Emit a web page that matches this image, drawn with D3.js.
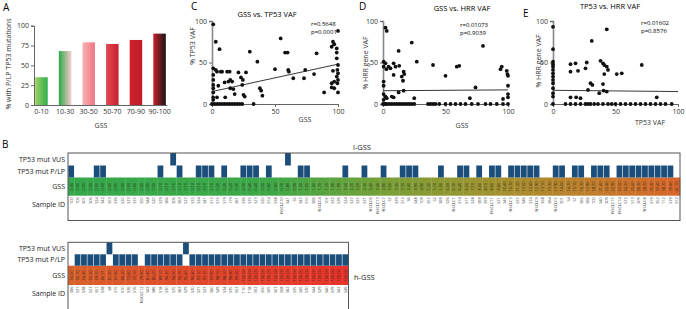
<!DOCTYPE html>
<html>
<head>
<meta charset="utf-8">
<script src="https://cdn.jsdelivr.net/npm/d3@7"></script>
<style>
  body { margin: 0; background: #fff; }
  text { font-family: "Open Sans", "Liberation Sans", sans-serif; }
</style>
</head>
<body>
<svg id="fig" width="686" height="309"></svg>
<script>
// ---- podaci ----
const gssBins = ["0-10", "10-30", "30-50", "50-70", "70-90", "90-100"]
const pctPLP = [35, 68, 79, 77, 82, 90]

// [GSS, TP53 VAF]
const scatterC = [
  [1,96],[3,75],[6,66],[1,43],[3,41],[1,35],[1,29],[1,23],[1,19],[1,14],[1,8],[1,5],
  [4,39],[7,39],[8,39],[5,22],[4,8],[10.5,8],[10,26],[13,27],[12,39],[14,39],[14.5,29],
  [16,27],[14.5,19],[17,18],[18,12],[21,38],[23,32],[24.5,29],[24,23],[25,11],[26,9],
  [27,38],[30,63],[36,51],[38,19],[39,16],[40,10],[50,42],[54.5,79],[58,62],[60,62],
  [60.5,41],[61,39],[64.5,31],[73,31],[74,41],[81,36],[83,61],[89,14],[95,69],[95,25],
  [96,75],[96,40],[97,72],[97,27],[99,67],[99,62],[99,55],[99,33],[99.5,41],[99.5,25],
  [100,88],[100,47],[100,37],[100,29],[100,14],[97,19],[95,20],
  [0,0],[2,0],[4,0],[6,0],[8,0],[10,0],[12,0],[14,0],[16,0],[18,0],[20,0],[22,0],[24,0],[33,0]
]
const fitC = [[0, 15], [100, 48]]

// [GSS, HRR VAF]
const scatterD = [
  [2,92],[3,88],[0.5,51],[2,49],[0.5,45],[2.7,42],[4.5,45],[6,43],[8.5,49],[10,45],
  [12.5,64],[13,46],[15,33],[16.5,39],[17,36],[16,28],[8.5,35],[23,74],[27,51],[25,7],
  [40,47],[50,34],[59,45],[61,46],[80,70],[74,20],[69.5,7],[95,45],[94,42],[99,40],
  [99.5,36],[100,34],[100,22],[100,12],[100,8],[96,6],[0.5,27],[0.5,22],[0.5,12],[2,9],
  [3,7],[7,9],[8.5,8],[0.5,5],[12.5,14],[16.5,16],
  [0,0],[1,0],[2,0],[3,0],[5,0],[7,0],[9,0],[11,0],[13,0],[15,0],[17,0],[19,0],[21,0],
  [23,0],[25,0],[36,0],[38,0],[40,0],[42,0],[45,0],[50,0],[54,0],[58,0],[62,0],[66,0],
  [71,0],[76,0],[82,0],[86,0],[91,0],[96,0],[100,0]
]
const fitD = [[0, 16], [100, 17]]

// [TP53 VAF, HRR VAF]
const scatterE = [
  [0,93],[0,66],[0,51],[0,48],[0,45],[0,41],[0,37],[0,33],[0,29],[0,25],[0,19],[0,13],[0,9],
  [14,48],[14,39],[18,49],[20,40],[26,43],[27,50],[31,76],[30,25],[31.5,23],[28,17],
  [38,52],[40,49],[41,47],[43,90],[43,45],[44,41],[41,36],[40,24],[40.5,16],[43,15],
  [37,13],[51,36],[55,37],[71,47],[18.5,8],[22,7],[14,8],[83,8],
  [0,0],[10,0],[14,0],[18,0],[22,0],[26,0],[28,0],[30,0],[33,0],[36,0],[40,0],[44,0],
  [47,0],[50,0],[54,0],[58,0],[62,0],[66,0],[70,0],[74,0],[78,0],[82,0],[86,0],[90,0],[95,0]
]
const fitE = [[0, 16.5], [100, 15]]

// tablica B, l-GSS
const lowIds = [
  "100","106","S01","S06","S24","S42","S53","S76","S20","S23","S37","S50","S48","S20","S29","S66",
  "S06","S63","S27","S32","S24","S41","S17","S15","S19","I19","S61","S36","S75","S23","S20","S14",
  "S38","NSCLC10","S41","S5","S47","S10","S66","NSCLC4","107","S32","S76","S24","S27","S25","S71","NSCLC6",
  "NSCLC13","NSCLC7","S7","S39","S12","S6","S48","109","S57","S2","S69","S26","NSCLC1","S14","S11","S28",
  "S69","S93","NSCLC11","S21","S45","NSCLC3","S37","S46","S74","NSCLC9","S58","S64","NSCLC5","301","S4","S1",
  "S65","S66","100","S40","S09","NSCLC15","NSCLC14","S72","S13","S09","NSCLC8","S19","S52","112","S79","S12"
]
const lowGss = [
  "0.00","0.00","0.00","0.00","0.00","0.00","0.00","0.00","0.00","0.00","0.00","0.00","0.00","0.00","0.10","0.10",
  "0.10","0.10","0.10","0.10","0.10","0.10","0.10","0.20","0.20","0.20","0.30","0.30","0.40","0.40","0.50","0.60",
  "0.60","0.70","0.80","0.90","1.00","1.00","1.40","1.70","1.70","1.90","1.90","2.00","2.20","2.20","2.30","2.40",
  "2.40","2.80","3.00","3.30","3.30","3.40","3.90","4.90","5.20","5.70","5.90","6.00","6.30","6.40","6.50","7.10",
  "8.00","8.10","8.60","9.60","10.40","10.70","11.20","12.00","12.60","12.90","13.10","13.30","13.90","14.00","14.70","15.10",
  "16.70","17.90","18.70","21.40","22.40","22.90","23.00","24.30","25.40","26.30","28.20","35.30","37.40","38.70","39.60","41.10"
]
const lowPLP = [0,4,5,14,17,20,21,22,24,27,28,29,31,36,37,43,46,49,52,53,54,58,61,62,64,66,67,
  69,70,71,72,73,76,77,79,80,82,83,84,86,87,88,89,90,91,92,93,94]
const lowVUS = [16, 34]

// tablica B, h-GSS
const highIds = [
  "S66","S31","S38","S27","S51","S38","S8","S15","S10","S36","S16","NSCLC12","S43","S86","S18","S30",
  "S75","S63","S29","S30","S21","S23","S60","S49","S34","S35","S52","110","118","302","S50","S05",
  "S07","S08","S62","S35","S45","S70","S44","S29","S40","S39","S42","S46"
]
const highGss = [
  "50.00","50.10","54.40","55.30","59.50","60.71","61.30","61.90","66.20","72.60","75.10","79.90","81.40","85.00","89.10","94.20",
  "94.30","94.70","95.40","95.40","97.10","97.70","97.90","98.10","98.10","98.90","99.30","100.00","100.00","100.00","100.00","100.00",
  "100.00","100.00","100.00","100.00","100.00","100.00","100.00","100.00","100.00","100.00","100.00","100.00"
]
const highPLP = [1,2,3,4,5,7,8,9,10,12,13,14,15,16,17,19,20,21,22,23,24,25,26,27,28,29,30,31,
  32,33,34,35,36,37,38,39,40,41,42,43]
const highVUS = [6, 18]

// ---- crtanje ----
const svg = d3.select("#fig")
const defs = svg.append("defs")
const axisGray = "#666"

const styleAxis = g => {
  g.selectAll("text").attr("font-size", 7).attr("fill", "#333")
  g.selectAll("path.domain").attr("stroke", axisGray)
  g.selectAll(".tick line").attr("stroke", axisGray)
}

// Panel A
const barGrad = [
  ["#9fd063", "#2fae4b"],
  ["#2ea84a", "#f7cccd"],
  ["#f8b3b6", "#ee7480"],
  ["#e04a53", "#c91f2e"],
  ["#d0202f", "#c21c2b"],
  ["#c8202e", "#151515"],
]
barGrad.forEach((c, i) => {
  const lg = defs.append("linearGradient").attr("id", "bg" + i)
  lg.append("stop").attr("offset", "0%").attr("stop-color", c[0])
  lg.append("stop").attr("offset", "100%").attr("stop-color", c[1])
})

const xA = d3.scaleBand().domain(gssBins).range([34, 167]).paddingInner(0.47).paddingOuter(0.05)
const yA = d3.scaleLinear().domain([0, 100]).range([105, 25.7])

svg.append("g").selectAll("rect")
  .data(pctPLP)
  .join("rect")
    .attr("x", (d, i) => xA(gssBins[i]))
    .attr("y", d => yA(d))
    .attr("width", xA.bandwidth())
    .attr("height", d => yA(0) - yA(d))
    .attr("fill", (d, i) => `url(#bg${i})`)

svg.append("g")
    .attr("transform", "translate(34,0)")
    .call(d3.axisLeft(yA).tickValues([0, 25, 50, 75, 100]).tickSize(3).tickPadding(2))
    .call(styleAxis)
svg.append("g")
    .attr("transform", "translate(0,105)")
    .call(d3.axisBottom(xA).tickSize(0).tickPadding(4))
    .call(styleAxis)

svg.append("text").attr("x", 3).attr("y", 11).attr("font-size", 10).text("A")
svg.append("text").attr("x", 101).attr("y", 128).attr("font-size", 7)
    .attr("text-anchor", "middle").attr("fill", "#333").text("GSS")
svg.append("text")
    .attr("transform", "translate(11,64) rotate(-90)")
    .attr("font-size", 7).attr("text-anchor", "middle").attr("fill", "#333")
    .text("% with P/LP TP53 mutations")

// Scatter panele
const crtajScatter = cfg => {
  const x = d3.scaleLinear().domain([0, 100]).range([cfg.x0, cfg.x1])
  const y = d3.scaleLinear().domain([0, 100]).range([cfg.y0, cfg.y1])
  const g = svg.append("g")

  g.append("g")
      .attr("transform", `translate(${cfg.x0},0)`)
      .call(d3.axisLeft(y).tickValues([0, 50, 100]).tickSize(3).tickPadding(2))
      .call(styleAxis)
      .call(a => a.select(".domain").attr("stroke", "#888").attr("stroke-width", 1.6))
  g.append("g")
      .attr("transform", `translate(0,${cfg.y0})`)
      .call(d3.axisBottom(x).tickValues([0, 50, 100]).tickSize(3).tickPadding(2))
      .call(styleAxis)

  g.append("path")
      .datum(cfg.fit)
      .attr("d", d3.line().x(d => x(d[0])).y(d => y(d[1])))
      .attr("stroke", "#222").attr("stroke-width", 0.9).attr("fill", "none")

  g.append("g").selectAll("circle")
    .data(cfg.pts)
    .join("circle")
      .attr("cx", d => x(d[0]))
      .attr("cy", d => y(d[1]))
      .attr("r", 1.9)
      .attr("fill", "#111")

  g.append("text").attr("x", cfg.lx).attr("y", cfg.ly).attr("font-size", 10).text(cfg.letter)
  g.append("text").attr("x", cfg.tx).attr("y", cfg.ty).attr("font-size", 7.5)
      .attr("text-anchor", "middle").text(cfg.title)
  g.append("text").attr("x", cfg.rx).attr("y", cfg.ry).attr("font-size", 6).text(cfg.r)
  g.append("text").attr("x", cfg.rx).attr("y", cfg.ry + 7.5).attr("font-size", 6).text(cfg.p)
  g.append("text").attr("x", cfg.xlx).attr("y", cfg.xly).attr("font-size", 7)
      .attr("text-anchor", "middle").attr("fill", "#333").text(cfg.xlab)
  g.append("text")
      .attr("transform", `translate(${cfg.ylx},${cfg.yly}) rotate(-90)`)
      .attr("font-size", 7).attr("text-anchor", "middle").attr("fill", "#333")
      .text(cfg.ylab)
}

crtajScatter({
  x0: 212, x1: 338, y0: 104, y1: 21, pts: scatterC, fit: fitC,
  letter: "C", lx: 191, ly: 10, title: "GSS vs. TP53 VAF", tx: 267, ty: 17,
  r: "r=0.5648", p: "p=0.0001", rx: 311, ry: 26,
  xlab: "GSS", xlx: 305, xly: 122, ylab: "% TP53 VAF", ylx: 195, yly: 46
})
crtajScatter({
  x0: 383, x1: 508, y0: 104, y1: 21, pts: scatterD, fit: fitD,
  letter: "D", lx: 359, ly: 10, title: "GSS vs. HRR VAF", tx: 462, ty: 11,
  r: "r=0.01073", p: "p=0.9039", rx: 460, ry: 27,
  xlab: "GSS", xlx: 462, xly: 128, ylab: "% HRR gene VAF", ylx: 368, yly: 63
})
crtajScatter({
  x0: 553, x1: 678, y0: 104, y1: 21, pts: scatterE, fit: fitE,
  letter: "E", lx: 523, ly: 17, title: "TP53 vs. HRR VAF", tx: 610, ty: 9,
  r: "r=0.01602", p: "p=0.8576", rx: 641, ry: 25,
  xlab: "TP53 VAF", xlx: 650, xly: 125, ylab: "% HRR gene VAF", ylx: 541, yly: 61
})

// Panel B
svg.append("text").attr("x", 2).attr("y", 148).attr("font-size", 10).text("B")

const crtajTablicu = cfg => {
  const n = cfg.ids.length
  const x = d3.scaleBand().domain(d3.range(n)).range([cfg.left, cfg.left + n * 6.375])
  const [yV, yP, yG, yS, yEnd] = cfg.rows
  const boja = d3.scaleLinear().domain(cfg.colorStops.map(s => s[0] * (n - 1)))
      .range(cfg.colorStops.map(s => s[1])).interpolate(d3.interpolateRgb)
  const g = svg.append("g")

  // GSS
  g.append("g").selectAll("rect")
    .data(cfg.gss)
    .join("rect")
      .attr("x", (d, i) => x(i))
      .attr("y", yG)
      .attr("width", x.bandwidth() + 0.3)
      .attr("height", yS - yG)
      .attr("fill", (d, i) => boja(i))
  g.append("g").selectAll("text")
    .data(cfg.gss)
    .join("text")
      .attr("transform", (d, i) => `translate(${x(i) + x.bandwidth() / 2},${(yG + yS) / 2}) rotate(-90)`)
      .attr("text-anchor", "middle").attr("dy", "0.35em")
      .attr("font-size", 3.9).attr("fill", "#2a2a1a")
      .text(d => d)

  // mutacije
  g.append("g").selectAll("rect")
    .data(cfg.plp)
    .join("rect")
      .attr("x", d => x(d) + 0.3)
      .attr("y", yP)
      .attr("width", x.bandwidth() - 0.6)
      .attr("height", yG - yP)
      .attr("fill", "#1c4e7b")
  g.append("g").selectAll("rect")
    .data(cfg.vus)
    .join("rect")
      .attr("x", d => x(d) + 0.3)
      .attr("y", yV)
      .attr("width", x.bandwidth() - 0.6)
      .attr("height", yP - yV)
      .attr("fill", "#1c4e7b")

  // uzorci
  g.append("g").selectAll("text")
    .data(cfg.ids)
    .join("text")
      .attr("transform", (d, i) => `translate(${x(i) + x.bandwidth() / 2},${yS + 1.5}) rotate(-90)`)
      .attr("text-anchor", "end").attr("dy", "0.35em")
      .attr("font-size", 3.9).attr("fill", "#333")
      .text(d => d)

  g.append("rect")
      .attr("x", cfg.left).attr("y", yV)
      .attr("width", n * 6.375).attr("height", yEnd - yV)
      .attr("fill", "none").attr("stroke", "#555").attr("stroke-width", 1)

  const labele = ["TP53 mut VUS", "TP53 mut P/LP", "GSS", "Sample ID"]
  const centri = [(yV + yP) / 2, (yP + yG) / 2, (yG + yS) / 2, yS + 9]
  labele.forEach((t, i) => {
    g.append("text").attr("x", cfg.left - 3).attr("y", centri[i]).attr("dy", "0.35em")
        .attr("text-anchor", "end").attr("font-size", 7).attr("fill", "#222").text(t)
  })
}

crtajTablicu({
  left: 68, rows: [153, 165.5, 177.5, 195.7, 220.5],
  ids: lowIds, gss: lowGss, plp: lowPLP, vus: lowVUS,
  colorStops: [[0, "#35a84b"], [0.33, "#3ea848"], [0.52, "#789f37"], [0.68, "#9e9430"], [0.85, "#bf7f2c"], [1, "#d9652b"]]
})
crtajTablicu({
  left: 68, rows: [242.3, 254.3, 265.7, 285, 312],
  ids: highIds, gss: highGss, plp: highPLP, vus: highVUS,
  colorStops: [[0, "#d9612b"], [0.5, "#e0462b"], [1, "#e8322a"]]
})

svg.append("text").attr("x", 362).attr("y", 150).attr("font-size", 7.5)
    .attr("text-anchor", "middle").attr("fill", "#222").text("l-GSS")
svg.append("text").attr("x", 354).attr("y", 280).attr("font-size", 7.5)
    .attr("fill", "#222").text("h-GSS")
</script>
</body>
</html>
